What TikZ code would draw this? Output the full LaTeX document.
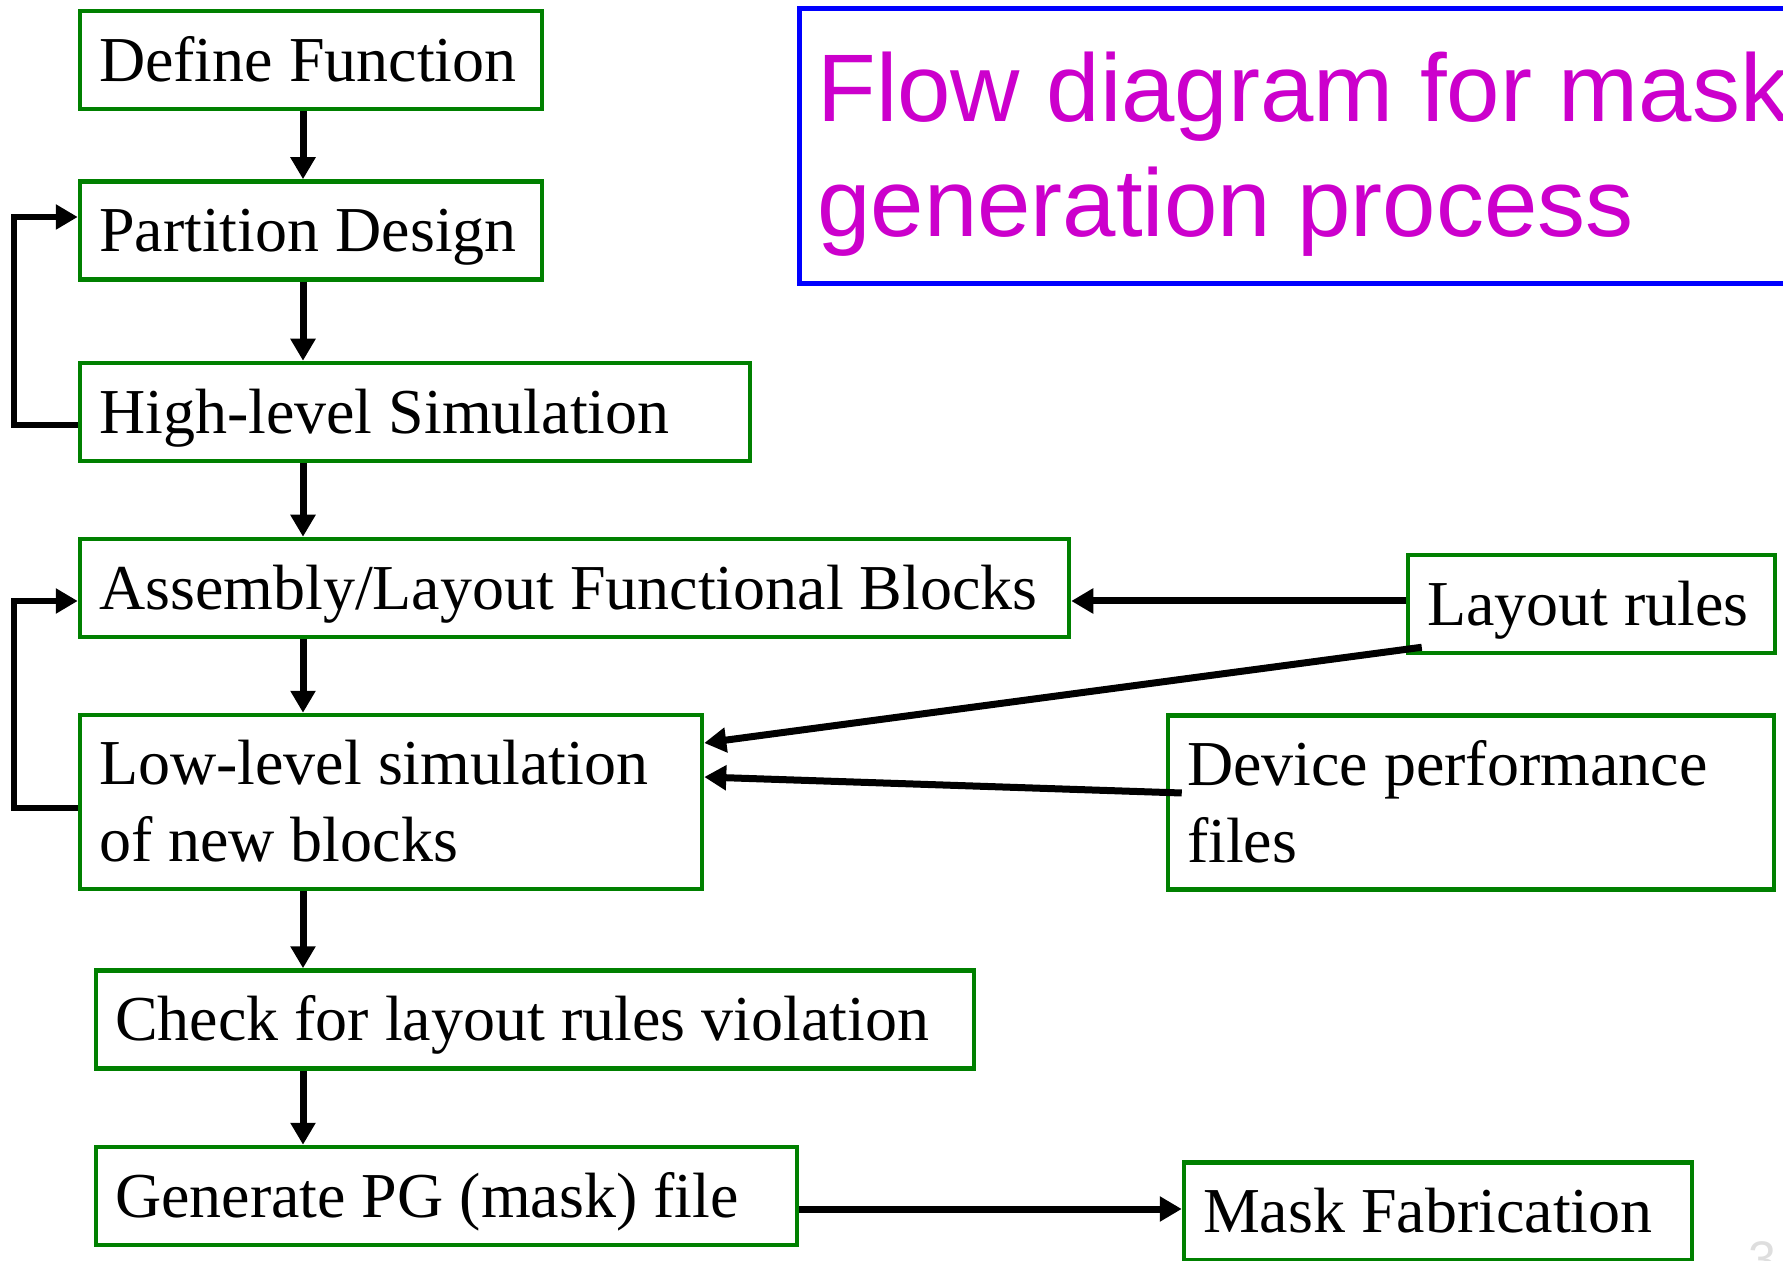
\documentclass[tikz,border=0pt]{standalone}
\usepackage{fontspec}
\setmainfont{Liberation Serif}
\newfontfamily\titlefont{Liberation Sans}
\usetikzlibrary{arrows.meta}
\definecolor{boxgreen}{RGB}{0,128,0}
\definecolor{titleblue}{RGB}{0,0,255}
\definecolor{titlemagenta}{RGB}{204,0,204}
\definecolor{pagegray}{RGB}{222,222,222}

\begin{document}
\begin{tikzpicture}[x=0.5pt,y=-0.5pt,font=\fontsize{32pt}{38.5pt}\selectfont,
  execute at begin node={\spaceskip=0pt\xspaceskip=0pt\relax}]
% Fix the page to the size of the slide
\useasboundingbox (0,0) rectangle (1783,1261);

\tikzset{
% Two node styles for the stages: one line and two lines
stage/.style={rectangle,draw=boxgreen,line width=2.25pt,inner xsep=9.5pt,inner ysep=0pt,align=left,minimum height=49pt,text height=21.2pt,text depth=0pt},
stage2/.style={stage,minimum height=87pt,text depth=38.5pt},
% Thick arrows between the stages
flow/.style={line width=3.5pt,-{Triangle[length=11pt,width=12pt]}},
back flow/.style={flow,line width=3pt}
}

% The title
\draw[titleblue,line width=2.5pt] (799,9) rectangle (1800,283.5);
\node[anchor=base west,inner sep=0pt,text width=700pt,align=left,text=titlemagenta,font=\titlefont\fontsize{48pt}{57.5pt}\selectfont] (title) at (817,122) {Flow diagram for mask\\generation process};

% The main chain
\node[stage,text width=212pt] (define) at (311,60) {Define Function};
\node[stage,text width=212pt] (partition) at (311,230.5) {Partition Design};
\node[stage,text width=316pt] (highlevel) at (415,412) {High-level Simulation};
\node[stage,text width=475.5pt] (assembly) at (574.5,588) {Assembly/Layout Functional Blocks};
\node[stage2,text width=292pt] (lowlevel) at (391,802) {Low-level simulation\\of new blocks};
\node[stage,text width=420pt] (check) at (535,1019.5) {Check for layout rules violation};
\node[stage,text width=331.5pt] (generate) at (446.5,1196) {Generate PG (mask) file};

% The inputs and the output on the right
\node[stage,text width=164.5pt] (rules) at (1591.5,604) {Layout rules};
\node[stage2,text width=284pt] (device) at (1471,802.5) {Device performance\\files};
\node[stage,text width=235pt] (mask) at (1438,1211.5) {Mask Fabrication};

\node[anchor=base west,inner sep=0pt,text=pagegray,font=\titlefont\fontsize{25pt}{30pt}\selectfont] (pagenum) at (1748,1276) {3};

% Arrows down the chain
\coordinate (spine) at (303,0);
\draw[flow] (define.south -| spine) -- (partition.north -| spine);
\draw[flow] (partition.south -| spine) -- (highlevel.north -| spine);
\draw[flow] (highlevel.south -| spine) -- (assembly.north -| spine);
\draw[flow] (assembly.south -| spine) -- (lowlevel.north -| spine);
\draw[flow] (lowlevel.south -| spine) -- (check.north -| spine);
\draw[flow] (check.south -| spine) -- (generate.north -| spine);

% Feedback loops on the left
\draw[back flow] ([yshift=-6.5pt]highlevel.west) -- ++(-32pt,0) |- ([yshift=6.75pt]partition.west);
\draw[back flow] ([yshift=-3pt]lowlevel.west) -- ++(-32pt,0) |- ([yshift=-6.5pt]assembly.west);

% Arrows from the right
\draw[flow] ([yshift=1.5pt]rules.west) -- ([yshift=1.5pt]rules.west -| assembly.east);
\draw[flow] ([shift={(8pt,4pt)}]rules.south west) -- ([yshift=29.5pt]lowlevel.east);
\draw[flow] ([shift={(8pt,4.75pt)}]device.west) -- ([yshift=12.5pt]lowlevel.east);
\draw[flow] ([yshift=-6.5pt]generate.east) -- ([yshift=-6.5pt]generate.east -| mask.west);

\end{tikzpicture}
\end{document}
